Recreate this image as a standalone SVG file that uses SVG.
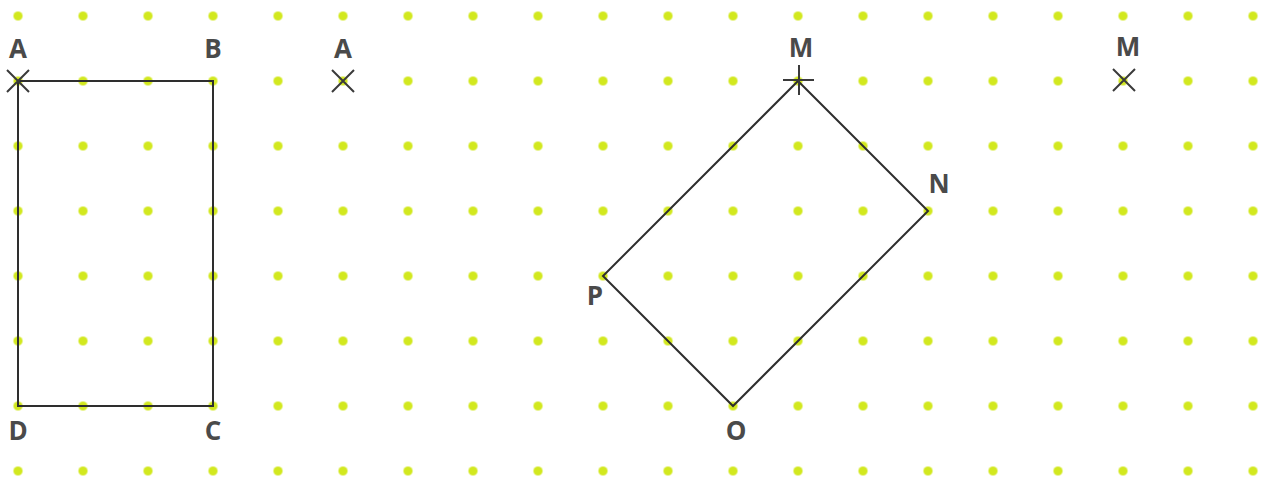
<svg xmlns="http://www.w3.org/2000/svg" width="1266" height="477" viewBox="0 0 1266 477">
<style>
.lbl{font-family:"Open Sans","Liberation Sans",sans-serif;font-weight:bold;font-size:26px;fill:#4a4a4a;text-anchor:middle}
.shape{fill:none;stroke:#2e2e2e;stroke-width:2;stroke-linejoin:miter}
.mark{stroke:#3a3a3a;stroke-width:2;fill:none}
</style>
<defs>
<pattern id="dots" patternUnits="userSpaceOnUse" x="-14.5" y="-16.5" width="65" height="65">
<circle cx="32.5" cy="32.5" r="4.6" fill="#d2e81f"/>
</pattern>
</defs>
<rect width="1266" height="477" fill="#ffffff"/>
<rect id="grid" width="1266" height="477" fill="url(#dots)"/>
<g id="rectangle-ABCD">
<polygon class="shape" points="18,81 213,81 213,406 18,406"/>
<path class="mark" d="M7,70 L29,92 M29,70 L7,92"/>
<text class="lbl" x="18" y="58">A</text>
<text class="lbl" x="213" y="58">B</text>
<text class="lbl" x="213" y="440">C</text>
<text class="lbl" x="18" y="440">D</text>
</g>
<g id="point-A2">
<path class="mark" d="M332,70 L354,92 M354,70 L332,92"/>
<text class="lbl" x="343" y="58">A</text>
</g>
<g id="rectangle-MNOP">
<polygon class="shape" points="798,81 928,211 733,406 603,276"/>
<path class="mark" d="M799,65 L799,95 M783,80 L814,80"/>
<text class="lbl" x="801" y="57">M</text>
<text class="lbl" x="939" y="193">N</text>
<text class="lbl" x="736" y="440">O</text>
<text class="lbl" x="595" y="305">P</text>
</g>
<g id="point-M2">
<path class="mark" d="M1113,69 L1135,91 M1135,69 L1113,91"/>
<text class="lbl" x="1128" y="56">M</text>
</g>
</svg>
